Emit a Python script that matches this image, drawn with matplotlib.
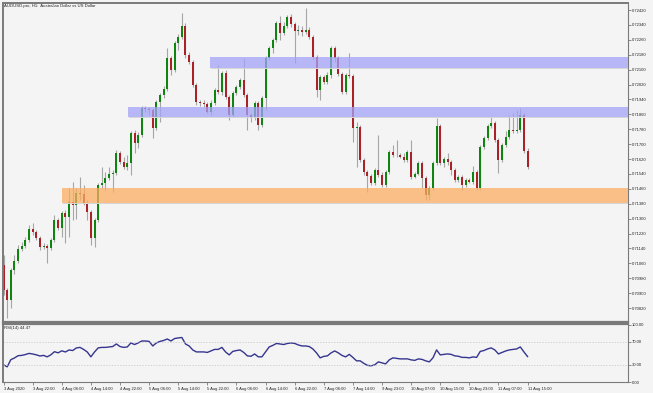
import numpy as np
import matplotlib
matplotlib.use("Agg")
import matplotlib.pyplot as plt
from matplotlib.patches import Rectangle

plt.rcParams['font.family'] = ['Liberation Sans', 'DejaVu Sans']

# AUDUSD H1 candles
opens = [0.71051, 0.70917, 0.70863, 0.71024, 0.71072, 0.71137, 0.71153, 0.71185, 0.71244, 0.71228,
         0.71196, 0.71148, 0.71153, 0.71142, 0.71185, 0.71293, 0.71250, 0.71330, 0.71309, 0.71389,
         0.71373, 0.71438, 0.71432, 0.71384, 0.71336, 0.71196, 0.71293, 0.71481, 0.71491, 0.71518,
         0.71540, 0.71545, 0.71652, 0.71604, 0.71577, 0.71599, 0.71760, 0.71706, 0.71749, 0.71894,
         0.71889, 0.71883, 0.71787, 0.71926, 0.71964, 0.71996, 0.72163, 0.72098, 0.72243, 0.72275,
         0.72334, 0.72179, 0.72141, 0.72018, 0.71926, 0.71921, 0.71916, 0.71873, 0.71921, 0.71991,
         0.71980, 0.72082, 0.71953, 0.71856, 0.71975, 0.72007, 0.72044, 0.71964, 0.71856, 0.71840,
         0.71921, 0.71803, 0.71948, 0.72163, 0.72216, 0.72259, 0.72350, 0.72297, 0.72334, 0.72383,
         0.72345, 0.72308, 0.72313, 0.72302, 0.72313, 0.72275, 0.72168, 0.71991, 0.72061, 0.72034,
         0.72071, 0.72216, 0.72163, 0.72077, 0.71980, 0.72071, 0.72066, 0.71787, 0.71792, 0.71615,
         0.71550, 0.71529, 0.71491, 0.71561, 0.71534, 0.71481, 0.71550, 0.71658, 0.71642, 0.71642,
         0.71631, 0.71615, 0.71658, 0.71524, 0.71540, 0.71599, 0.71518, 0.71427, 0.71464, 0.71599,
         0.71797, 0.71599, 0.71620, 0.71604, 0.71561, 0.71507, 0.71524, 0.71481, 0.71507, 0.71497,
         0.71550, 0.71464, 0.71685, 0.71733, 0.71797, 0.71813, 0.71722, 0.71615, 0.71695, 0.71738,
         0.71776, 0.71771, 0.71776, 0.71856, 0.71663]
highs = [0.71105, 0.70927, 0.71035, 0.71105, 0.71158, 0.71174, 0.71201, 0.71266, 0.71276, 0.71239,
         0.71207, 0.71169, 0.71164, 0.71196, 0.71319, 0.71303, 0.71341, 0.71346, 0.71464, 0.71497,
         0.71464, 0.71524, 0.71481, 0.71400, 0.71346, 0.71303, 0.71491, 0.71577, 0.71550, 0.71577,
         0.71561, 0.71668, 0.71663, 0.71631, 0.71642, 0.71771, 0.71776, 0.71765, 0.71905, 0.71905,
         0.71899, 0.71894, 0.71937, 0.71975, 0.72012, 0.72216, 0.72173, 0.72254, 0.72291, 0.72404,
         0.72350, 0.72195, 0.72152, 0.72028, 0.71937, 0.71937, 0.71926, 0.71937, 0.72001, 0.72125,
         0.72093, 0.72098, 0.71964, 0.71985, 0.72018, 0.72055, 0.72163, 0.71975, 0.71867, 0.71932,
         0.71932, 0.71958, 0.72173, 0.72227, 0.72270, 0.72361, 0.72388, 0.72356, 0.72393, 0.72399,
         0.72356, 0.72340, 0.72334, 0.72431, 0.72329, 0.72286, 0.72179, 0.72071, 0.72071, 0.72087,
         0.72227, 0.72227, 0.72173, 0.72087, 0.72082, 0.72189, 0.72077, 0.71819, 0.71803, 0.71626,
         0.71561, 0.71540, 0.71572, 0.71749, 0.71550, 0.71561, 0.71668, 0.71695, 0.71722, 0.71652,
         0.71652, 0.71668, 0.71722, 0.71550, 0.71609, 0.71609, 0.71529, 0.71475, 0.71609, 0.71840,
         0.71808, 0.71631, 0.71652, 0.71615, 0.71572, 0.71534, 0.71534, 0.71518, 0.71518, 0.71583,
         0.71561, 0.71695, 0.71744, 0.71808, 0.71851, 0.71824, 0.71733, 0.71706, 0.71771, 0.71856,
         0.71867, 0.71883, 0.71894, 0.71867, 0.71679]
lows = [0.70890, 0.70766, 0.70820, 0.71003, 0.71062, 0.71126, 0.71142, 0.71174, 0.71212, 0.71185,
        0.71131, 0.71137, 0.71062, 0.71131, 0.71174, 0.71239, 0.71201, 0.71169, 0.71201, 0.71293,
        0.71298, 0.71400, 0.71373, 0.71293, 0.71158, 0.71148, 0.71282, 0.71464, 0.71454, 0.71507,
        0.71443, 0.71534, 0.71593, 0.71566, 0.71561, 0.71534, 0.71652, 0.71679, 0.71738, 0.71873,
        0.71856, 0.71733, 0.71776, 0.71819, 0.71948, 0.71985, 0.72071, 0.72087, 0.72205, 0.72265,
        0.72163, 0.72130, 0.72007, 0.71910, 0.71905, 0.71899, 0.71867, 0.71856, 0.71910, 0.71969,
        0.71964, 0.71942, 0.71830, 0.71846, 0.71964, 0.71996, 0.71953, 0.71776, 0.71819, 0.71830,
        0.71776, 0.71792, 0.71883, 0.72152, 0.72189, 0.72248, 0.72259, 0.72286, 0.72324, 0.72329,
        0.72136, 0.72286, 0.72281, 0.72291, 0.72265, 0.72157, 0.71953, 0.71937, 0.72023, 0.72023,
        0.72055, 0.72141, 0.72066, 0.71969, 0.71969, 0.72055, 0.71711, 0.71577, 0.71604, 0.71534,
        0.71443, 0.71481, 0.71481, 0.71524, 0.71470, 0.71470, 0.71540, 0.71631, 0.71631, 0.71626,
        0.71604, 0.71604, 0.71513, 0.71518, 0.71534, 0.71464, 0.71400, 0.71400, 0.71454, 0.71588,
        0.71588, 0.71577, 0.71588, 0.71534, 0.71497, 0.71497, 0.71454, 0.71470, 0.71491, 0.71486,
        0.71454, 0.71454, 0.71674, 0.71722, 0.71787, 0.71711, 0.71545, 0.71604, 0.71685, 0.71728,
        0.71760, 0.71760, 0.71765, 0.71652, 0.71566]
closes = [0.70917, 0.70863, 0.71024, 0.71072, 0.71137, 0.71153, 0.71185, 0.71244, 0.71228, 0.71196,
          0.71148, 0.71153, 0.71142, 0.71185, 0.71293, 0.71250, 0.71330, 0.71309, 0.71389, 0.71373,
          0.71438, 0.71432, 0.71384, 0.71336, 0.71196, 0.71293, 0.71481, 0.71491, 0.71518, 0.71540,
          0.71545, 0.71652, 0.71604, 0.71577, 0.71599, 0.71760, 0.71706, 0.71749, 0.71894, 0.71889,
          0.71883, 0.71787, 0.71926, 0.71964, 0.71996, 0.72163, 0.72098, 0.72243, 0.72275, 0.72334,
          0.72179, 0.72141, 0.72018, 0.71926, 0.71921, 0.71916, 0.71873, 0.71921, 0.71991, 0.71980,
          0.72082, 0.71953, 0.71856, 0.71975, 0.72007, 0.72044, 0.71964, 0.71856, 0.71840, 0.71921,
          0.71803, 0.71948, 0.72163, 0.72216, 0.72259, 0.72350, 0.72297, 0.72334, 0.72383, 0.72345,
          0.72308, 0.72313, 0.72302, 0.72313, 0.72275, 0.72168, 0.71991, 0.72061, 0.72034, 0.72071,
          0.72216, 0.72163, 0.72077, 0.71980, 0.72071, 0.72066, 0.71787, 0.71792, 0.71615, 0.71550,
          0.71529, 0.71491, 0.71561, 0.71534, 0.71481, 0.71550, 0.71658, 0.71642, 0.71642, 0.71631,
          0.71615, 0.71658, 0.71524, 0.71540, 0.71599, 0.71518, 0.71427, 0.71464, 0.71599, 0.71797,
          0.71599, 0.71620, 0.71604, 0.71561, 0.71507, 0.71524, 0.71481, 0.71507, 0.71497, 0.71550,
          0.71464, 0.71685, 0.71733, 0.71797, 0.71813, 0.71722, 0.71615, 0.71695, 0.71738, 0.71776,
          0.71771, 0.71776, 0.71856, 0.71663, 0.71577]

# RSI(14) values per bar
rsi = [30, 26.5, 39, 42, 46, 46.5, 48, 50, 49, 47.5,
       45.5, 46.5, 44, 47.5, 53, 51, 54.5, 52.5, 56, 55,
       59.5, 60.5, 57, 52.5, 44, 52.5, 59.6, 60.5, 60.5, 61.3,
       62, 66.5, 62, 60.5, 61.3, 68.3, 65.5, 68.3, 71.7, 71.7,
       71, 63, 68.3, 71, 72.6, 75.2, 71.7, 76, 77, 77.8,
       66.5, 63, 56, 52.6, 52.6, 52.6, 51.7, 54.3, 57, 57,
       60.5, 52.6, 47.4, 53.5, 55, 56, 51.7, 45.7, 45, 49,
       44, 44, 52.6, 61.3, 64, 67.4, 66.5, 65.5, 67.4, 68.3,
       67.4, 64.8, 63, 63, 62, 57.8, 50.9, 42.2, 44.8, 45.7,
       50.9, 54.3, 50.9, 46.5, 43.9, 48.3, 43, 37, 37, 32.6,
       29.1, 28.3, 30, 35.2, 33.5, 31.7, 38.7, 42.2, 41.3, 40.4,
       40.4, 40.4, 38.7, 37.8, 40.4, 39.5, 37, 35.2, 42.2, 56.1,
       47.4, 48.3, 49.1, 48.3, 45.7, 45, 43, 43, 42.2, 43.9,
       43, 53.5, 55, 57.8, 59.6, 56.1, 49.1, 51.7, 54.3, 56.1,
       57, 57.8, 61.3, 52.6, 44.47]

time_labels = ["3 Aug 2020", "3 Aug 22:00", "4 Aug 06:00", "4 Aug 14:00", "4 Aug 22:00",
               "5 Aug 06:00", "5 Aug 14:00", "5 Aug 22:00", "6 Aug 06:00", "6 Aug 14:00",
               "6 Aug 22:00", "7 Aug 06:00", "7 Aug 14:00", "9 Aug 23:00", "10 Aug 07:00",
               "10 Aug 15:00", "10 Aug 23:00", "11 Aug 07:00", "11 Aug 15:00"]
label_step = 8

price_ticks = [0.72420, 0.72340, 0.72260, 0.72180, 0.72100, 0.72020, 0.71940, 0.71860,
               0.71780, 0.71700, 0.71620, 0.71540, 0.71460, 0.71380, 0.71300, 0.71220,
               0.71140, 0.71060, 0.70980, 0.70900, 0.70820]

# zones: (start bar, bottom price, top price, colour)
zones = [(56.7, 0.72109, 0.72168, '#a3a3fa'),
         (34.2, 0.71846, 0.71899, '#a3a3fa'),
         (16.1, 0.71384, 0.71464, '#fbae62')]

bg = '#f4f4f4'
frame = '#7a7a7a'
up_col = '#0f840f'
down_col = '#a82228'

o = np.array(opens); h = np.array(highs); l = np.array(lows); c = np.array(closes)
x = np.arange(len(c))
xmax = 171.6

fig = plt.figure(figsize=(6.53, 3.93), dpi=100, facecolor=bg)
ax = fig.add_axes([3/653, 71/393, 625/653, 319/393], facecolor=bg)
ax2 = fig.add_axes([3/653, 11/393, 625/653, 58/393], facecolor=bg)

# candles
ax.vlines(x, l, h, color='#a6a6a6', lw=0.8, zorder=1)
cols = np.where(c >= o, up_col, down_col)
body_h = np.maximum(np.abs(c - o), 0.000015)
ax.bar(x, body_h, bottom=np.minimum(o, c), width=0.55, color=cols, lw=0, zorder=2)

for x0, y0, y1, col in zones:
    # faint shadow along the lower edge
    ax.add_patch(Rectangle((x0 + 0.3, y0 - 0.00005), xmax, 0.00005, color='#d6d6d6', lw=0, zorder=3))
    ax.add_patch(Rectangle((x0, y0), xmax, y1 - y0, color=col, alpha=0.75, lw=0, zorder=4))

ax.set_xlim(-0.15, xmax)
ax.set_ylim(0.70745, 0.72458)
ax.set_xticks([])
ax.yaxis.tick_right()
ax.set_yticks(price_ticks)
ax.set_yticklabels([f"{p:.5f}" for p in price_ticks])
ax.tick_params(axis='y', direction='out', length=2, width=0.6, colors=frame,
               labelsize=3, pad=1, labelcolor='#222222')
ax.text(0.002, 0.99, "AUDUSD.pro, H1:  Australian Dollar vs US Dollar", transform=ax.transAxes,
        fontsize=3.1, va='center', ha='left', color='#222222')

# RSI panel
ax2.plot(x, rsi, color='#35358f', lw=1.0)
for lvl in (70, 30):
    ax2.axhline(lvl, color='#c4c4c4', lw=0.5, ls=(0, (2, 2)))
ax2.set_xlim(-0.15, xmax)
ax2.set_ylim(0, 101.4)
ax2.yaxis.tick_right()
ax2.set_yticks([100, 70, 30, 0])
ax2.set_yticklabels(["100.00", "70.00", "30.00", "0.00"])
ax2.tick_params(axis='y', direction='out', length=2, width=0.6, colors=frame,
                labelsize=3, pad=1, labelcolor='#222222')
ax2.set_xticks(x[::label_step])
ax2.set_xticklabels(time_labels, ha='left')
ax2.tick_params(axis='x', direction='out', length=2.5, width=0.6, colors=frame,
                labelsize=3, pad=1, labelcolor='#222222')
ax2.text(0.002, 0.93, "RSI(14) 44.47", transform=ax2.transAxes,
         fontsize=3.1, va='center', ha='left', color='#222222')

for a in (ax, ax2):
    for side in a.spines:
        a.spines[side].set_color(frame)
    a.spines['left'].set_linewidth(1.4)
    a.spines['right'].set_linewidth(0.8)
ax.spines['top'].set_linewidth(1.4)
ax.spines['bottom'].set_linewidth(1.6)
ax2.spines['top'].set_linewidth(1.6)
ax2.spines['bottom'].set_linewidth(0.8)

fig.savefig("out.png", dpi=100, facecolor=bg)
